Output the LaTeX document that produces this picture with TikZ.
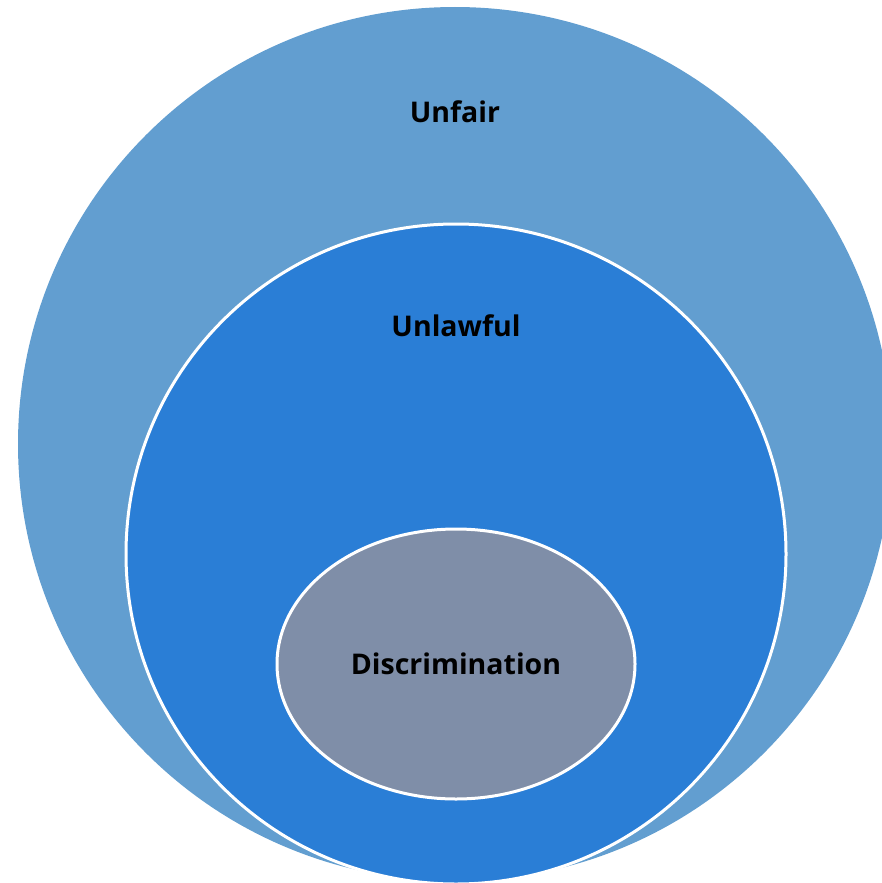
\documentclass[tikz,border=0pt]{standalone}
\usepackage{fontspec}
\setmainfont{Open Sans}
\usetikzlibrary{positioning,shapes.geometric}

\definecolor{fairblue}{RGB}{98,158,208}
\definecolor{lawblue}{RGB}{42,126,214}
\definecolor{discgrey}{RGB}{127,142,168}

\tikzset{
    ring/.style={circle, inner sep=0pt},
    lbl/.style={font=\bfseries\fontsize{28.5}{30}\selectfont, text=black, inner sep=0pt}
}

\begin{document}
\begin{tikzpicture}[x=1pt, y=-1pt]
    \useasboundingbox (0,0) rectangle (882,883) ;
    \clip (0,0) rectangle (882,883) ;

    % three nested sets
    \node [ring, fill=fairblue, minimum size=874pt] (unfair) at (455,444) {} ;
    \node [ring, fill=lawblue, draw=white, line width=3pt, minimum size=660pt] (unlawful) at (456,554) {} ;
    \node [ellipse, inner sep=0pt, fill=discgrey, draw=white, line width=3pt, minimum width=358pt, minimum height=270pt] (discrimination) at (456,664) {} ;

    \node [lbl, below=94pt of unfair.north] {Unfair} ;
    \node [lbl, below=92pt of unlawful.north] {Unlawful} ;
    \node [lbl] at (discrimination.center) {Discrimination} ;
\end{tikzpicture}
\end{document}
